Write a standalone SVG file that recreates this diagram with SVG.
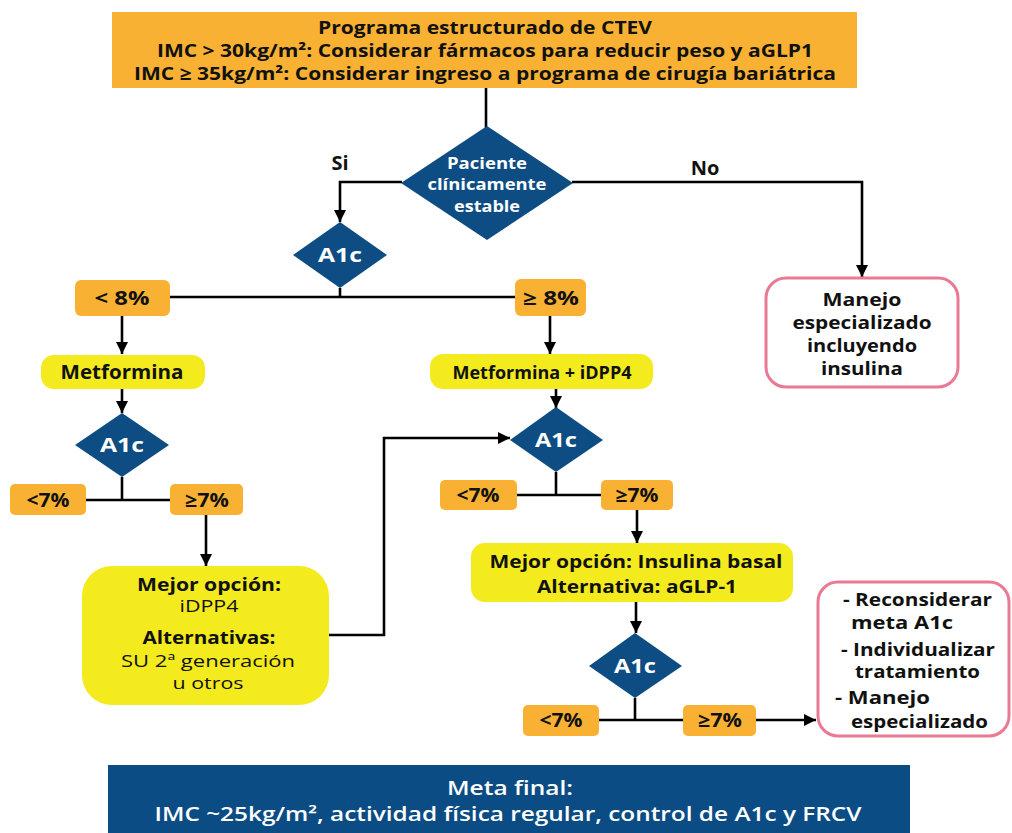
<svg xmlns="http://www.w3.org/2000/svg" width="1012" height="833" viewBox="0 0 1012 833">
<style>
text{font-family:"Open Sans","Liberation Sans",sans-serif;text-anchor:middle;fill:#111;font-size:19px;}
.b{font-weight:bold;}
.w{fill:#fff;font-weight:bold;}
.s{text-anchor:start;}
.m{font-size:17px;}
.or{fill:#F8B133;}
.ye{fill:#F3EB1E;}
.dm{fill:#0E4D84;}
.pk{fill:#fff;stroke:#E87A93;stroke-width:3;}
.ln{fill:none;stroke:#000;stroke-width:2.6;}
</style>
<defs>
<marker id="ah" markerUnits="userSpaceOnUse" markerWidth="14" markerHeight="14" refX="12" refY="7" orient="auto" viewBox="0 0 14 14">
<path d="M0,1 L12,7 L0,13 z" fill="#000"/>
</marker>
</defs>
<rect width="1012" height="833" fill="#fff"/>

<g id="connectors">
<path class="ln" d="M486,88 V128"/>
<path class="ln" d="M402,182 H340 V222" marker-end="url(#ah)"/>
<path class="ln" d="M572,182 H862 V277" marker-end="url(#ah)"/>
<path class="ln" d="M340,288 V297 M170,297 H515"/>
<path class="ln" d="M122,316 V354" marker-end="url(#ah)"/>
<path class="ln" d="M122,389 V413" marker-end="url(#ah)"/>
<path class="ln" d="M122,477 V500 M86,500 H170"/>
<path class="ln" d="M206,515 V566" marker-end="url(#ah)"/>
<path class="ln" d="M329,635 H384 V438 H510" marker-end="url(#ah)"/>
<path class="ln" d="M550,316 V354" marker-end="url(#ah)"/>
<path class="ln" d="M556,389 V408" marker-end="url(#ah)"/>
<path class="ln" d="M556,472 V495 M517,495 H601"/>
<path class="ln" d="M637,510 V543" marker-end="url(#ah)"/>
<path class="ln" d="M636,602 V633" marker-end="url(#ah)"/>
<path class="ln" d="M635,698 V720 M599,720 H683"/>
<path class="ln" d="M756,720 H816" marker-end="url(#ah)"/>
</g>

<g id="top">
<rect class="or" x="112" y="12" width="745" height="76"/>
<text class="b" x="485" y="34" style="font-size:18px" textLength="334" lengthAdjust="spacingAndGlyphs">Programa estructurado de CTEV</text>
<text class="b" x="485" y="57" style="font-size:18px" textLength="656" lengthAdjust="spacingAndGlyphs">IMC &gt; 30kg/m²: Considerar fármacos para reducir peso y aGLP1</text>
<text class="b" x="485" y="80" style="font-size:18px" textLength="702" lengthAdjust="spacingAndGlyphs">IMC ≥ 35kg/m²: Considerar ingreso a programa de cirugía bariátrica</text>
</g>

<g id="estable">
<polygon class="dm" points="487,126 573,183 487,240 401,183"/>
<text class="w" x="487" y="169" style="font-size:16px" textLength="80" lengthAdjust="spacingAndGlyphs">Paciente</text>
<text class="w" x="487" y="190" style="font-size:16px" textLength="119" lengthAdjust="spacingAndGlyphs">clínicamente</text>
<text class="w" x="487" y="212" style="font-size:16px" textLength="66" lengthAdjust="spacingAndGlyphs">estable</text>
</g>
<text class="b" x="340" y="170" style="font-size:20px">Si</text>
<text class="b" x="705" y="175" style="font-size:20px">No</text>

<g id="manejo1">
<rect class="pk" x="766" y="278" width="192" height="109" rx="20"/>
<text class="b m" x="862" y="306" textLength="79" lengthAdjust="spacingAndGlyphs">Manejo</text>
<text class="b m" x="862" y="329" textLength="139" lengthAdjust="spacingAndGlyphs">especializado</text>
<text class="b m" x="862" y="352" textLength="110" lengthAdjust="spacingAndGlyphs">incluyendo</text>
<text class="b m" x="862" y="375" textLength="82" lengthAdjust="spacingAndGlyphs">insulina</text>
</g>

<g id="a1c1">
<polygon class="dm" points="340,222 387,255 340,288 293,255"/>
<text class="w" x="340" y="262" style="font-size:20px" textLength="44" lengthAdjust="spacingAndGlyphs">A1c</text>
</g>

<g id="lt8">
<rect class="or" x="75" y="280" width="95" height="36" rx="6"/>
<text class="b" x="122" y="305" textLength="55" lengthAdjust="spacingAndGlyphs">&lt; 8%</text>
</g>
<g id="ge8">
<rect class="or" x="515" y="279" width="71" height="37" rx="6"/>
<text class="b" x="551" y="305" textLength="56" lengthAdjust="spacingAndGlyphs">≥ 8%</text>
</g>

<g id="metformina">
<rect class="ye" x="41" y="355" width="164" height="34" rx="13"/>
<text class="b" x="122" y="379" textLength="123" lengthAdjust="spacingAndGlyphs">Metformina</text>
</g>

<g id="a1c2">
<polygon class="dm" points="122,413 169,445 122,477 75,445"/>
<text class="w" x="122" y="452" style="font-size:20px" textLength="44" lengthAdjust="spacingAndGlyphs">A1c</text>
</g>

<g id="lt7a">
<rect class="or" x="10" y="484" width="76" height="31" rx="5"/>
<text class="b" x="48" y="507" textLength="43" lengthAdjust="spacingAndGlyphs">&lt;7%</text>
</g>
<g id="ge7a">
<rect class="or" x="170" y="484" width="73" height="31" rx="5"/>
<text class="b" x="207" y="507" textLength="44" lengthAdjust="spacingAndGlyphs">≥7%</text>
</g>

<g id="mejor1">
<rect class="ye" x="82" y="566" width="247" height="139" rx="30"/>
<text class="b m" x="209" y="591" textLength="144" lengthAdjust="spacingAndGlyphs">Mejor opción:</text>
<text class="m" x="209" y="612" textLength="59" lengthAdjust="spacingAndGlyphs">iDPP4</text>
<text class="b m" x="209" y="644" textLength="133" lengthAdjust="spacingAndGlyphs">Alternativas:</text>
<text class="m" x="208" y="667" textLength="174" lengthAdjust="spacingAndGlyphs">SU 2ª generación</text>
<text class="m" x="208" y="689" textLength="71" lengthAdjust="spacingAndGlyphs">u otros</text>
</g>

<g id="metfidpp4">
<rect class="ye" x="430" y="354" width="223" height="35" rx="13"/>
<text class="b" x="542" y="379" style="font-size:18px" textLength="179" lengthAdjust="spacingAndGlyphs">Metformina + iDPP4</text>
</g>

<g id="a1c3">
<polygon class="dm" points="556,407 603,440 556,472 510,440"/>
<text class="w" x="556" y="447" style="font-size:20px" textLength="42" lengthAdjust="spacingAndGlyphs">A1c</text>
</g>

<g id="lt7b">
<rect class="or" x="440" y="480" width="77" height="30" rx="5"/>
<text class="b" x="478" y="502" textLength="43" lengthAdjust="spacingAndGlyphs">&lt;7%</text>
</g>
<g id="ge7b">
<rect class="or" x="601" y="480" width="72" height="30" rx="5"/>
<text class="b" x="637" y="502" textLength="43" lengthAdjust="spacingAndGlyphs">≥7%</text>
</g>

<g id="mejor2">
<rect class="ye" x="471" y="543" width="322" height="59" rx="14"/>
<text class="b m" x="636" y="568" textLength="293" lengthAdjust="spacingAndGlyphs">Mejor opción: Insulina basal</text>
<text class="b m" x="637" y="593" textLength="200" lengthAdjust="spacingAndGlyphs">Alternativa: aGLP-1</text>
</g>

<g id="a1c4">
<polygon class="dm" points="635,633 682,666 635,698 589,666"/>
<text class="w" x="635" y="673" style="font-size:20px" textLength="42" lengthAdjust="spacingAndGlyphs">A1c</text>
</g>

<g id="lt7c">
<rect class="or" x="523" y="705" width="76" height="31" rx="5"/>
<text class="b" x="561" y="727" textLength="43" lengthAdjust="spacingAndGlyphs">&lt;7%</text>
</g>
<g id="ge7c">
<rect class="or" x="683" y="705" width="73" height="31" rx="5"/>
<text class="b" x="720" y="727" textLength="44" lengthAdjust="spacingAndGlyphs">≥7%</text>
</g>

<g id="manejo2">
<rect class="pk" x="818" y="582" width="191" height="154" rx="20"/>
<text class="b s m" x="843" y="606" textLength="149" lengthAdjust="spacingAndGlyphs">- Reconsiderar</text>
<text class="b s m" x="851" y="629" textLength="102" lengthAdjust="spacingAndGlyphs">meta A1c</text>
<text class="b s m" x="841" y="656" textLength="154" lengthAdjust="spacingAndGlyphs">- Individualizar</text>
<text class="b s m" x="855" y="678" textLength="125" lengthAdjust="spacingAndGlyphs">tratamiento</text>
<text class="b s m" x="835" y="704" textLength="95" lengthAdjust="spacingAndGlyphs">- Manejo</text>
<text class="b s m" x="851" y="728" textLength="137" lengthAdjust="spacingAndGlyphs">especializado</text>
</g>

<g id="meta">
<rect x="108" y="765" width="802" height="68" fill="#0B4C85"/>
<text x="510" y="795" style="fill:#fff;font-size:19px;font-weight:600" textLength="126" lengthAdjust="spacingAndGlyphs">Meta final:</text>
<text x="508" y="821" style="fill:#fff;font-size:19px;font-weight:600" textLength="707" lengthAdjust="spacingAndGlyphs">IMC ~25kg/m², actividad física regular, control de A1c y FRCV</text>
</g>
</svg>
